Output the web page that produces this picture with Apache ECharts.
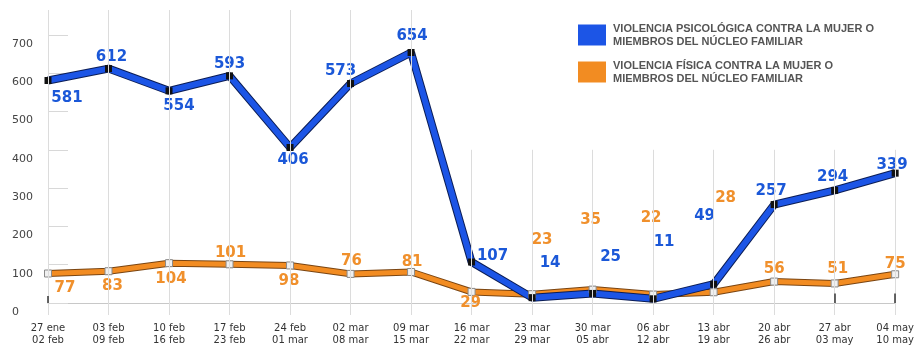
<!DOCTYPE html>
<html><head><meta charset="utf-8">
<script src="https://cdn.jsdelivr.net/npm/echarts@6/dist/echarts.min.js"></script>
<style>html,body{margin:0;padding:0;background:#fff}#c{width:917px;height:347px}</style>
</head><body><div id="c"></div>
<script>
const weekStart = ['27 ene','03 feb','10 feb','17 feb','24 feb','02 mar','09 mar','16 mar','23 mar','30 mar','06 abr','13 abr','20 abr','27 abr','04 may'];
const weekEnd = ['02 feb','09 feb','16 feb','23 feb','01 mar','08 mar','15 mar','22 mar','29 mar','05 abr','12 abr','19 abr','26 abr','03 may','10 may'];
const psicologica = [581,612,554,593,406,573,654,107,14,25,11,49,257,294,339];
const fisica = [77,83,104,101,98,76,81,29,23,35,22,28,56,51,75];
const nameP = 'VIOLENCIA PSICOLÓGICA CONTRA LA MUJER O MIEMBROS DEL NÚCLEO FAMILIAR';
const nameF = 'VIOLENCIA FÍSICA CONTRA LA MUJER O MIEMBROS DEL NÚCLEO FAMILIAR';

// label offsets (style only)
const blueOff = [[19,18],[3,-11],[10,15],[0,-12],[3,13],[-10,-12],[1,-16],[21,-6],[18,-35],[18,-36],[11,-57],[-9,-68],[-3,-13],[-2,-13],[-3,-8]];
const orangeOff = [[17,15],[4,15],[2,16],[1,-11],[-1,16],[1,-13],[1,-10],[-1,11],[10,-54],[-2,-69],[-2,-76],[12,-94],[0,-12],[3,-14],[0,-10]];

const BLUE = '#1c55e6', ORANGE = '#f28c22';
const categories = weekStart.map((s,i)=>s+'\n'+weekEnd[i]);
const longLines = categories.slice(0,7).map(c=>[{coord:[c,0]},{coord:[c,765]}]);
const shortLines = categories.slice(7).map(c=>[{coord:[c,0]},{coord:[c,400]}]);
const darkTicks = [categories[13],categories[14]].map(c=>[{coord:[c,0]},{coord:[c,25]}]);
darkTicks.push([{coord:[categories[0],0]},{coord:[categories[0],18]}]);

const chart = echarts.init(document.getElementById('c'));
const labelBase = {show:true, position:'inside', fontFamily:'DejaVu Sans', fontWeight:'bold', fontSize:15};
chart.setOption({
  animation:false,
  grid:{left:48,right:20,top:10,bottom:44},
  legend:{
    orient:'vertical', left:578, top:22, padding:0, itemWidth:28, itemHeight:21, itemGap:11,
    icon:'rect',
    data:[{name:nameP, itemStyle:{color:BLUE,borderWidth:0}},{name:nameF, itemStyle:{color:ORANGE,borderWidth:0}}],
    formatter:n=> n===nameP ? 'VIOLENCIA PSICOLÓGICA CONTRA LA MUJER O\nMIEMBROS DEL NÚCLEO FAMILIAR' : 'VIOLENCIA FÍSICA CONTRA LA MUJER O\nMIEMBROS DEL NÚCLEO FAMILIAR',
    textStyle:{fontFamily:'Liberation Sans', fontWeight:'bold', fontSize:11, lineHeight:13, color:'#555', padding:[0,0,0,2]}
  },
  xAxis:{
    type:'category', data:categories, boundaryGap:false,
    axisLine:{lineStyle:{color:'#c8c8c8',width:1}},
    axisTick:{show:true,length:12,lineStyle:{color:'#dcdcdc'}},
    axisLabel:{margin:19, fontFamily:'DejaVu Sans', fontSize:10, lineHeight:12, color:'#333', interval:0},
    splitLine:{show:false}
  },
  yAxis:{
    type:'value', min:0, max:765, interval:100,
    axisLine:{show:false},
    axisTick:{show:true, inside:true, length:20, lineStyle:{color:'#d8d8d8'}},
    splitLine:{show:false},
    axisLabel:{showMaxLabel:false, align:'left', verticalAlign:'top', lineHeight:18, margin:36, fontFamily:'DejaVu Sans', fontSize:11, color:'#444'}
  },
  series:[
    {name:'f-outline', type:'line', data:fisica, showSymbol:false, silent:true,
     lineStyle:{color:'#7a4512',width:7}, itemStyle:{color:'#7a4512'},
     markLine:{silent:true, symbol:'none', label:{show:false}, lineStyle:{color:'#dcdcdc',width:1,type:'solid'}, data:longLines.concat(shortLines)}},
    {name:'ticks', type:'line', data:[], silent:true,
     markLine:{silent:true, symbol:'none', label:{show:false}, lineStyle:{color:'#333',width:1.5,type:'solid'}, data:darkTicks}},
    {name:nameF, type:'line', data:fisica.map((v,i)=>({value:v,label:{offset:orangeOff[i]}})),
     symbol:'rect', symbolSize:7,
     lineStyle:{color:ORANGE,width:5},
     itemStyle:{color:'#f0f0f0',borderColor:'#8a8a8a',borderWidth:1},
     label:Object.assign({color:'#f0902c'},labelBase)},
    {name:'p-outline', type:'line', data:psicologica, showSymbol:false, silent:true,
     lineStyle:{color:'#0b1d55',width:8}},
    {name:nameP, type:'line', data:psicologica.map((v,i)=>({value:v,label:{offset:blueOff[i]}})),
     symbol:'rect', symbolSize:7,
     lineStyle:{color:BLUE,width:6},
     itemStyle:{color:'#111'},
     label:Object.assign({color:'#1b58d8'},labelBase)}
  ]
});
</script></body></html>
